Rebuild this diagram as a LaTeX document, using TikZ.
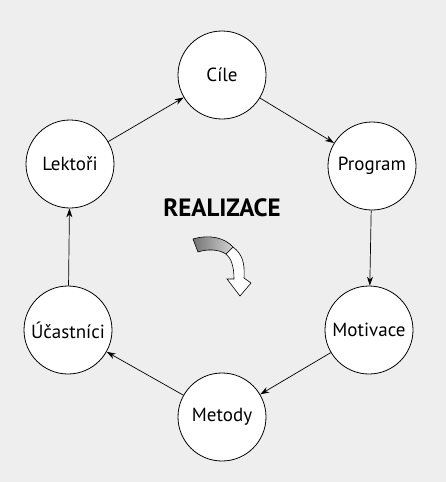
\documentclass[tikz,border=0pt]{standalone}
\usepackage{fontspec}
\setmainfont{PT Sans}
\usetikzlibrary{arrows.meta}
\definecolor{paper}{RGB}{238,238,238}
\tikzset{
    stage/.style = {circle, draw, line width = 0.8pt, fill = white,
        minimum size = 88pt, inner sep = 0pt, font = \fontsize{19}{21}\selectfont},
    flow/.style = {line width = 0.7pt, -{Stealth[length = 9pt, width = 6pt]}}
}
\begin{document}
\begin{tikzpicture}[x = 1pt, y = -1pt]
    \fill[paper] (0, 0) rectangle (446, 482);
    \node[stage] (cile)     at (222, 75)  {Cíle};
    \node[stage] (program)  at (372, 166) {Program};
    \node[stage] (motivace) at (369, 330) {Motivace};
    \node[stage] (metody)   at (222, 417) {Metody};
    \node[stage] (ucastnici) at (68, 330) {Účastníci};
    \node[stage] (lektori)  at (70, 164)  {Lektoři};
    \foreach \a/\b in {cile/program, program/motivace, motivace/metody,
                       metody/ucastnici, ucastnici/lektori, lektori/cile}
       \draw[flow] (\a) -- (\b);
    \node[font = \fontsize{25}{27}\selectfont\bfseries] (realizace) at (222, 208) {REALIZACE};
    % the turning arrow
    \filldraw[fill = white, line width = 0.6pt] (233, 247) .. controls (242, 254) and (245, 262) .. (244, 278)
        -- (251, 283) -- (240, 296) -- (227, 279) -- (234, 279)
        .. controls (234, 266) and (231, 258) .. (226, 254) -- cycle;
    \shade[left color = gray!90!black, right color = gray!35, draw, line width = 0.6pt]
        (193, 239) .. controls (210, 234) and (225, 238) .. (233, 247)
        -- (226, 254) .. controls (218, 249) and (207, 249) .. (198, 252) -- cycle;
\end{tikzpicture}
\end{document}
